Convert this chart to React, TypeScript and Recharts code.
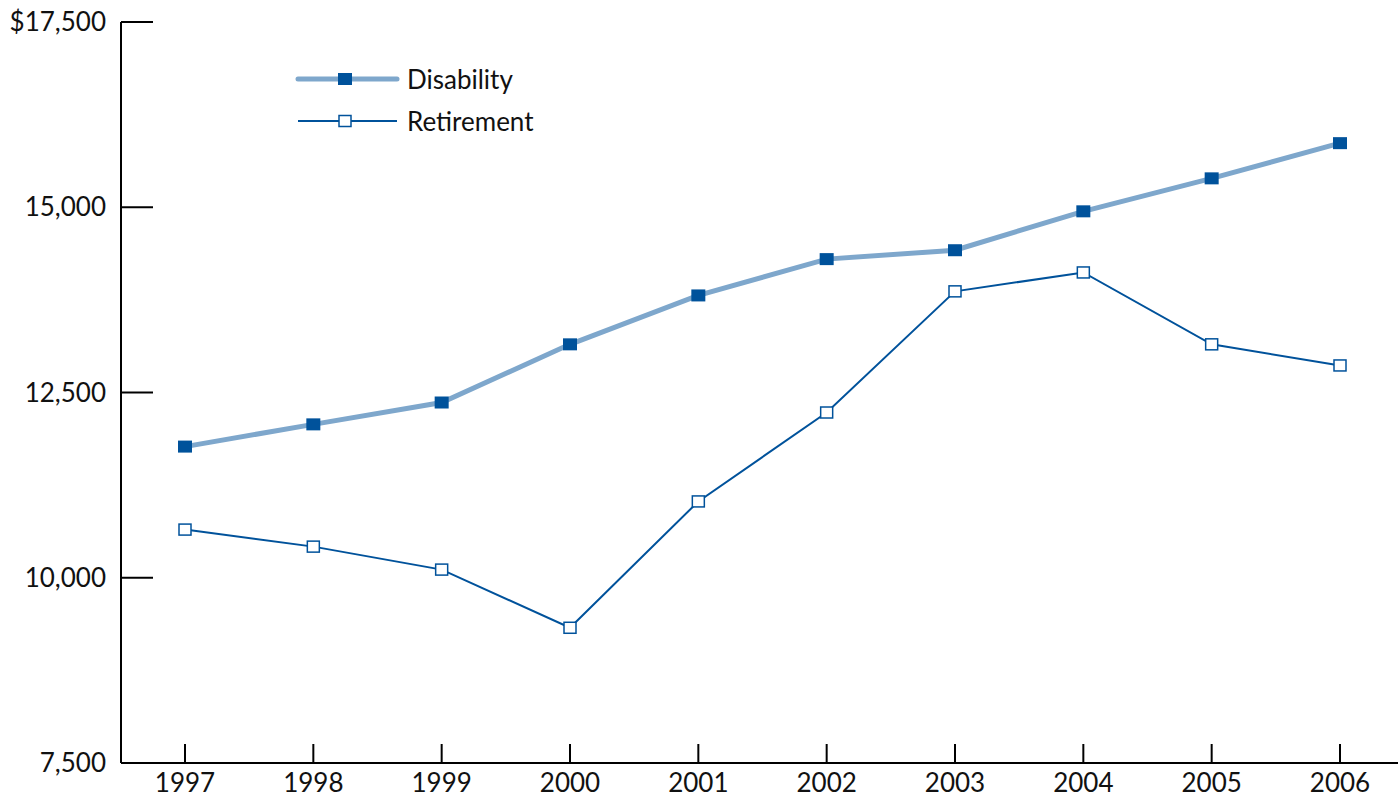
import { LineChart, Line, XAxis, YAxis } from 'recharts';

const years = ['1997', '1998', '1999', '2000', '2001', '2002', '2003', '2004', '2005', '2006'];
const disability = [11770, 12070, 12365, 13150, 13810, 14300, 14420, 14945, 15390, 15865];
const retirement = [10650, 10420, 10110, 9325, 11030, 12230, 13865, 14120, 13150, 12865];
const yTicks = [7500, 10000, 12500, 15000, 17500];

const data = years.map((year, i) => ({ year, disability: disability[i], retirement: retirement[i] }));

const FONT = 'Lato, "Open Sans", sans-serif';
const DARK = '#00529b';
const LIGHT = '#7ea7cc';

const XTick = (props: any) => {
  const { x, y, payload } = props;
  return (
    <g>
      <line x1={x} y1={y} x2={x} y2={y - 19} stroke="#000" strokeWidth={2} />
      <text x={x} y={y + 29} textAnchor="middle" fontSize={26} fontFamily={FONT} fill="#111">
        {payload.value}
      </text>
    </g>
  );
};

const YTick = (props: any) => {
  const { x, y, payload } = props;
  const label = payload.value === 17500 ? '$17,500' : payload.value.toLocaleString('en-US');
  return (
    <g>
      <line x1={x} y1={y} x2={x + 32} y2={y} stroke="#000" strokeWidth={2} />
      <text x={x - 15} y={y + 9} textAnchor="end" fontSize={26} fontFamily={FONT} fill="#111">
        {label}
      </text>
    </g>
  );
};

const FilledSquare = (props: any) => {
  const { cx, cy } = props;
  return <rect x={cx - 7} y={cy - 6} width={14} height={12} fill={DARK} />;
};

const OpenSquare = (props: any) => {
  const { cx, cy } = props;
  return <rect x={cx - 6} y={cy - 5.5} width={12} height={11} fill="#fff" stroke={DARK} strokeWidth={1.5} />;
};

const LegendBox = () => (
  <div style={{ position: 'absolute', left: 295, top: 57, fontFamily: FONT, fontSize: 26, color: '#111' }}>
    <div style={{ display: 'flex', alignItems: 'center', height: 44 }}>
      <svg width={112} height={20}>
        <line x1={3} y1={10} x2={102} y2={10} stroke={LIGHT} strokeWidth={5} strokeLinecap="round" />
        <rect x={43} y={4} width={14} height={12} fill={DARK} />
      </svg>
      <span>Disability</span>
    </div>
    <div style={{ display: 'flex', alignItems: 'center', height: 40 }}>
      <svg width={112} height={20}>
        <line x1={3} y1={10} x2={102} y2={10} stroke={DARK} strokeWidth={2} />
        <rect x={44} y={4.5} width={12} height={11} fill="#fff" stroke={DARK} strokeWidth={1.5} />
      </svg>
      <span>Retirement</span>
    </div>
  </div>
);

export default function App() {
  return (
    <div style={{ position: 'relative', background: '#fff', width: 1398, height: 799 }}>
      <style>{'body{margin:0;overflow:hidden}'}</style>
      <LineChart width={1398} height={799} data={data} margin={{ top: 22, right: 0, bottom: 0, left: 0 }}>
        <XAxis
          dataKey="year"
          height={36}
          padding={{ left: 64, right: 58 }}
          axisLine={{ stroke: '#000', strokeWidth: 2 }}
          tickLine={false}
          tickSize={0}
          tickMargin={0}
          tick={<XTick />}
          interval={0}
        />
        <YAxis
          width={121}
          domain={[7500, 17500]}
          ticks={yTicks}
          axisLine={{ stroke: '#000', strokeWidth: 2 }}
          tickLine={false}
          tickSize={0}
          tickMargin={0}
          tick={<YTick />}
          interval={0}
        />
        <Line
          dataKey="disability"
          stroke={LIGHT}
          strokeWidth={5}
          dot={<FilledSquare />}
          activeDot={false}
          isAnimationActive={false}
        />
        <Line
          dataKey="retirement"
          stroke={DARK}
          strokeWidth={2}
          dot={<OpenSquare />}
          activeDot={false}
          isAnimationActive={false}
        />
      </LineChart>
      <LegendBox />
    </div>
  );
}
